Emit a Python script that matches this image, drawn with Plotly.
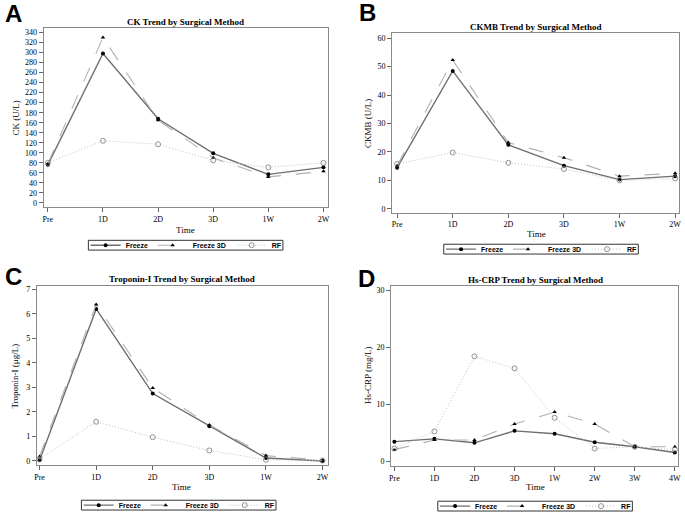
import plotly.graph_objects as go

# ---------------- data ----------------
time_a = ["Pre", "1D", "2D", "3D", "1W", "2W"]
ck_freeze = [76, 298, 168, 99, 57, 71]
ck_freeze3d = [78, 330, 165, 90, 52, 63]
ck_rf = [80, 124, 117, 85, 71, 80]

ckmb_freeze = [14.5, 48.5, 22.5, 15.2, 10.3, 11.5]
ckmb_freeze3d = [15.2, 52.3, 23.3, 18.0, 11.5, 12.5]
ckmb_rf = [15.8, 19.8, 16.2, 14.0, 10.0, 10.7]

tni_freeze = [0.03, 6.2, 2.75, 1.42, 0.12, 0.0]
tni_freeze3d = [0.18, 6.38, 2.98, 1.47, 0.22, 0.03]
tni_rf = [0.08, 1.6, 0.97, 0.43, 0.05, 0.02]

time_d = ["Pre", "1D", "2D", "3D", "1W", "2W", "3W", "4W"]
crp_freeze = [3.4, 3.9, 3.2, 5.3, 4.8, 3.3, 2.5, 1.5]
crp_freeze3d = [2.0, 3.7, 3.7, 6.5, 8.6, 6.5, 2.5, 2.5]
crp_rf = [2.2, 5.2, 18.4, 16.3, 7.6, 2.2, 2.5, 2.0]

series_names = ["Freeze", "Freeze 3D", "RF"]
legend_text_widths = [22, 34, 9]

W, H = 685, 521
def px(x):
    return x / W
def py(y):
    return 1 - y / H

fig = go.Figure()

styles = {
    "Freeze": dict(line=dict(color="#6e6e6e", width=1.4, dash="solid"),
                   marker=dict(symbol="circle", size=4, color="black")),
    "Freeze 3D": dict(line=dict(color="#b0b0b0", width=1.1, dash="longdash"),
                      marker=dict(symbol="triangle-up", size=4, color="black")),
    "RF": dict(line=dict(color="#c0c0c0", width=1, dash="1px,2px"),
               marker=dict(symbol="circle-open", size=5, color="#777777", line=dict(width=0.8))),
}

panels = [
    dict(x=time_a, ys=[ck_freeze, ck_freeze3d, ck_rf], xa="x", ya="y", leg="legend"),
    dict(x=time_a, ys=[ckmb_freeze, ckmb_freeze3d, ckmb_rf], xa="x2", ya="y2", leg="legend2"),
    dict(x=time_a, ys=[tni_freeze, tni_freeze3d, tni_rf], xa="x3", ya="y3", leg="legend3"),
    dict(x=time_d, ys=[crp_freeze, crp_freeze3d, crp_rf], xa="x4", ya="y4", leg="legend4"),
]

for p in panels:
    for name, ys, lw in zip(series_names, p["ys"], legend_text_widths):
        st = styles[name]
        fig.add_trace(go.Scatter(
            x=p["x"], y=ys, name=name, mode="lines+markers",
            line=st["line"], marker=st["marker"],
            xaxis=p["xa"], yaxis=p["ya"], legend=p["leg"], showlegend=True,
            legendwidth=lw,
        ))

tickfont = dict(family="Liberation Serif", size=8, color="black")
axcommon = dict(showline=True, mirror=True, linecolor="#8a8a8a", linewidth=1,
                ticks="outside", ticklen=4, tickcolor="#666666", tickwidth=1,
                showgrid=False, zeroline=False, tickfont=tickfont)

# panel domains (pixels: left, right, top, bottom)
dom = {
    1: (42, 328, 28, 210),
    2: (393, 682, 33, 216),
    3: (35, 328, 291, 473),
    4: (392, 681, 291, 474),
}
xranges = {1: [-0.075, 5.075], 2: [-0.09, 5.07], 3: [-0.05, 5.09], 4: [-0.08, 7.08]}
yranges = {1: [-8, 348], 2: [-1.4, 61.7], 3: [-0.16, 7.12], 4: [-0.86, 30.7]}
ytick = {1: (0, 20), 2: (0, 10), 3: (0, 1), 4: (0, 10)}
cats = {1: time_a, 2: time_a, 3: time_a, 4: time_d}

layout = {}
for i in range(1, 5):
    l, r, t, b = dom[i]
    sfx = "" if i == 1 else str(i)
    layout["xaxis" + sfx] = dict(domain=[px(l), px(r)], anchor="y" + sfx, type="category",
                                 categoryorder="array", categoryarray=cats[i],
                                 range=xranges[i], **axcommon)
    layout["yaxis" + sfx] = dict(domain=[py(b), py(t)], anchor="x" + sfx,
                                 range=yranges[i], tick0=ytick[i][0], dtick=ytick[i][1],
                                 **axcommon)

legfont = dict(family="Liberation Sans", size=7, color="black", weight="bold")
legpos = {"legend": (185, 249), "legend2": (543, 253), "legend3": (178, 514), "legend4": (537, 515)}
legend_w = sum(40 + 5 + w for w in legend_text_widths)
for k, (lx, ly) in legpos.items():
    layout[k] = dict(x=px(lx), y=py(ly), xanchor="center", yanchor="middle",
                     orientation="h", borderwidth=0,
                     bgcolor="rgba(0,0,0,0)", font=legfont, itemwidth=30,
                     tracegroupgap=0, entrywidthmode="pixels")

shapes = []
for k, (lx, ly) in legpos.items():
    shapes.append(dict(type="rect", xref="paper", yref="paper",
                       x0=px(lx - legend_w / 2 + 2), x1=px(lx + legend_w / 2 - 2),
                       y0=py(ly + 5), y1=py(ly - 5),
                       line=dict(color="#333", width=1), fillcolor="rgba(0,0,0,0)", layer="below"))

fig.update_layout(width=W, height=H, margin=dict(l=0, r=0, t=0, b=0),
                  paper_bgcolor="white", plot_bgcolor="white", shapes=shapes, **layout)

titles = [
    ("CK Trend by Surgical Method", 185, 21),
    ("CKMB Trend by Surgical Method", 538, 27),
    ("Troponin-I Trend by Surgical Method", 181, 283),
    ("Hs-CRP Trend by Surgical Method", 537, 284),
]
for txt, x, y in titles:
    fig.add_annotation(text="<b>" + txt + "</b>", x=px(x), y=py(y), xref="paper", yref="paper",
                       xanchor="center", yanchor="middle", showarrow=False,
                       font=dict(family="Liberation Serif", size=9, color="black"))

letters = [("A", 1, 13), ("B", 358, 12), ("C", 1, 281), ("D", 357, 283)]
for txt, x, y in letters:
    fig.add_annotation(text="<b>" + txt + "</b>", x=px(x), y=py(y), xref="paper", yref="paper",
                       xanchor="left", yanchor="middle", showarrow=False,
                       font=dict(family="Liberation Sans", size=24, color="black"))

xtitles = [("Time", 185, 233), ("Time", 538, 238), ("Time", 181, 496), ("Time", 537, 496)]
for txt, x, y in xtitles:
    fig.add_annotation(text=txt, x=px(x), y=py(y), xref="paper", yref="paper",
                       xanchor="center", yanchor="middle", showarrow=False,
                       font=dict(family="Liberation Serif", size=9, color="black"))

ytitles = [("CK (U/L)", 14, 119), ("CKMB (U/L)", 368, 125), ("Troponin-I (μg/L)", 13, 382),
           ("Hs-CRP (mg/L)", 368, 382)]
for txt, x, y in ytitles:
    fig.add_annotation(text=txt, x=px(x), y=py(y), xref="paper", yref="paper",
                       xanchor="center", yanchor="middle", showarrow=False, textangle=-90,
                       font=dict(family="Liberation Serif", size=9, color="black"))

fig.write_html("out.html", config={"displayModeBar": False},
               post_script="document.body.style.margin='0';document.body.style.overflow='hidden';")
